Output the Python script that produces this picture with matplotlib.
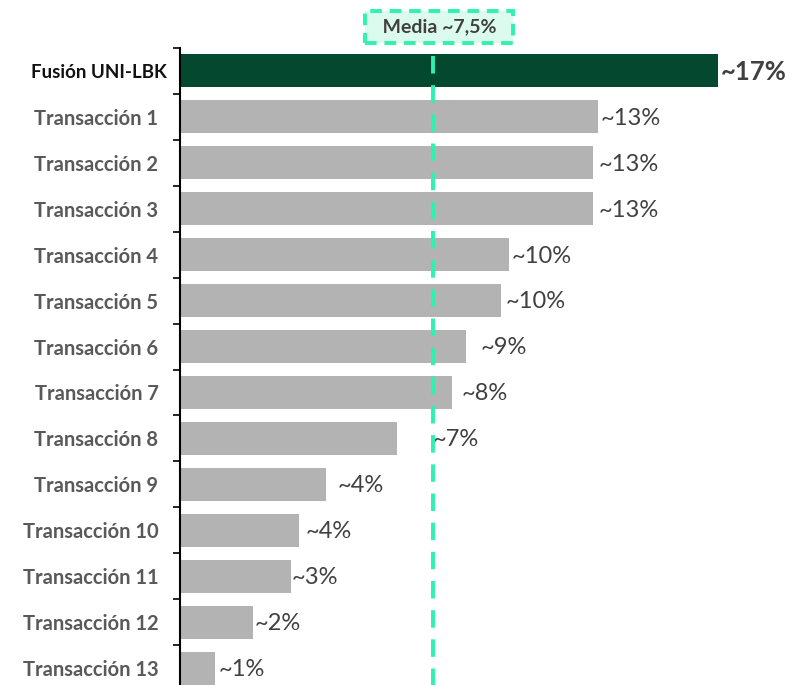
import matplotlib
matplotlib.use('Agg')
import matplotlib.pyplot as plt
import matplotlib.transforms as mtransforms

plt.rcParams['font.family'] = ['Lato', 'DejaVu Sans']

# datos
categorias = ['Fusión UNI-LBK'] + ['Transacción %d' % i for i in range(1, 14)]
valores = [17.0, 13.2, 13.05, 13.05, 10.4, 10.15, 9.05, 8.6, 6.85, 4.6, 3.75, 3.5, 2.3, 1.1]
etiquetas = ['~17%', '~13%', '~13%', '~13%', '~10%', '~10%', '~9%', '~8%', '~7%',
             '~4%', '~4%', '~3%', '~2%', '~1%']
media_texto = 'Media ~7,5%'
media_x = 8.0  # posicion de la linea en el grafico original

# separacion de cada etiqueta respecto al final de la barra (puntos)
separacion = [2, 2, 4, 4, 2, 3, 10, 7, 0, 9, 5, 1, 1, 3]

verde = '#03482f'
gris = '#b3b3b3'
menta = '#2ef2ad'

fig = plt.figure(figsize=(7.85, 6.85), dpi=100)
ax = fig.add_axes([180 / 785, -6 / 685, 601 / 785, 643 / 685])

y = list(range(len(categorias)))
colores = [verde] + [gris] * (len(categorias) - 1)
ax.barh(y, valores, height=0.72, color=colores, zorder=2)
ax.set_ylim(len(categorias) - 0.5, -0.5)
ax.set_xlim(0, 19)

# etiquetas de valor
for i, (v, t) in enumerate(zip(valores, etiquetas)):
    x = v
    if t == '~7%':
        x = media_x  # se mueve a la derecha de la linea
    ax.annotate(t, (x, i), xytext=(separacion[i], -1), textcoords='offset points',
                ha='left', va='center', fontsize=17 if i else 18.5,
                color='#404040', fontweight='bold' if i == 0 else 'normal')

# linea de la media
ax.axvline(media_x, color=menta, lw=2.8, ls=(0, (4.5, 3)), zorder=3)
ax.text(media_x + 0.2, -0.96, '  ' + media_texto + '  ', ha='center', va='center',
        fontsize=14, fontweight='bold', color='#404040', clip_on=False,
        bbox=dict(boxstyle='square,pad=0.38', fc='#dcfbef', ec=menta, lw=2.8,
                  ls=(0, (3, 2))))

# ejes
ax.set_yticks(y)
ax.set_yticklabels(categorias, fontweight='bold')
ax.tick_params(axis='y', length=0, pad=15.5)
for i, lab in enumerate(ax.get_yticklabels()):
    if i == 0:
        lab.set_color('#111111')
        lab.set_fontsize(13.5)
        lab.set_transform(lab.get_transform() +
                          mtransforms.ScaledTranslation(8 / 100, 0, fig.dpi_scale_trans))
    else:
        lab.set_color('#595959')
        lab.set_fontsize(14.5)
ax.set_yticks([i - 0.5 for i in range(len(categorias) + 1)], minor=True)
ax.tick_params(axis='y', which='minor', length=5, width=1.2, direction='out')
ax.set_xticks([])
for s in ['top', 'right', 'bottom']:
    ax.spines[s].set_visible(False)
ax.spines['left'].set_linewidth(1.5)

fig.savefig('out.png', dpi=100)
